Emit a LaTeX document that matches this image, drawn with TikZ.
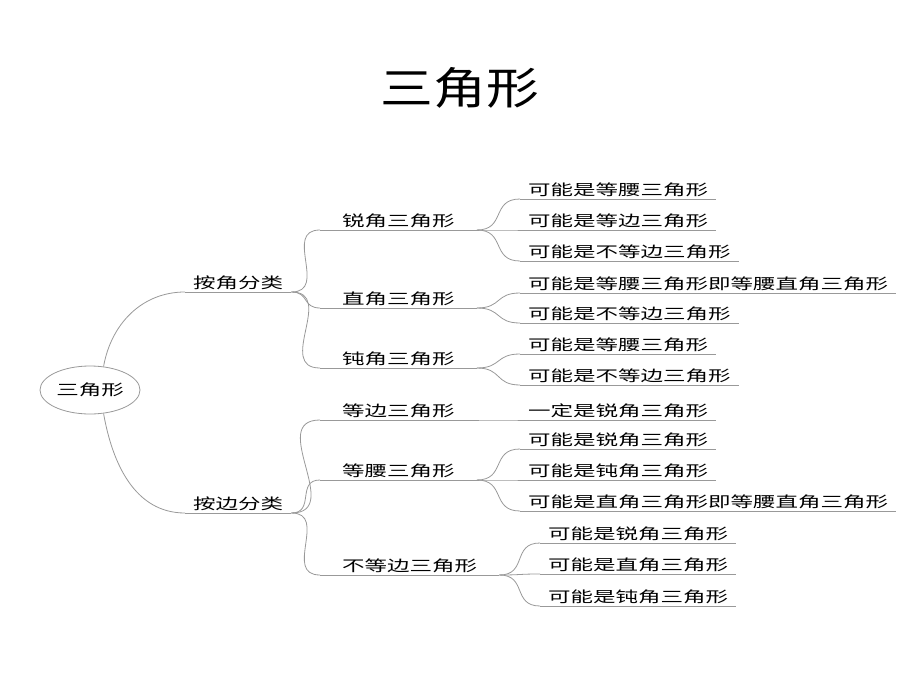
\documentclass[tikz,border=0pt]{standalone}
\usepackage{fontspec}
\newfontfamily\cjk{Noto Sans CJK SC}[FakeStretch=1.5]
\newfontfamily\cjktitle{Noto Sans CJK SC}[FakeStretch=1.2]
\usetikzlibrary{positioning,shapes.geometric}
\begin{document}
\begin{tikzpicture}[x=1pt,y=-1pt,
  branch/.style={draw=gray!80,line width=0.8pt},
  item/.style={anchor=south west,inner xsep=8pt,inner ysep=2pt,
    font=\cjk\fontsize{15}{17}\selectfont},
  group/.style={item,inner xsep=22pt}]
  \useasboundingbox (0,0) rectangle (920,690);
  % Title
  \node[font=\cjktitle\fontsize{44}{48}\selectfont] (title) at (460,88) {三角形};
  % Root
  \node[draw=gray!80,line width=0.8pt,ellipse,minimum width=100pt,minimum height=48pt,
    inner sep=0pt,font=\cjk\fontsize{15}{17}\selectfont] (root) at (90,390) {三角形};
  % First level
  \node[item] (angle) at (185,292) {按角分类};
  \node[item] (side) at (185,513) {按边分类};
  % Second level
  \node[group] (acute) at (320,230) {锐角三角形};
  \node[group] (right) at (320,308) {直角三角形};
  \node[group] (obtuse) at (320,368) {钝角三角形};
  \node[group] (equi) at (320,420) {等边三角形};
  \node[group] (iso) at (320,480) {等腰三角形};
  \node[group] (scal) at (320,575) {不等边三角形};
  % Leaves
  \node[item] (a1) at (520,199) {可能是等腰三角形};
  \node[item] (a2) at (520,230) {可能是等边三角形};
  \node[item] (a3) at (520,261) {可能是不等边三角形};
  \node[item] (r1) at (520,293) {可能是等腰三角形即等腰直角三角形};
  \node[item] (r2) at (520,323) {可能是不等边三角形};
  \node[item] (o1) at (520,354) {可能是等腰三角形};
  \node[item] (o2) at (520,385) {可能是不等边三角形};
  \node[item] (e1) at (520,420) {一定是锐角三角形};
  \node[item] (i1) at (520,449) {可能是锐角三角形};
  \node[item] (i2) at (520,480) {可能是钝角三角形};
  \node[item] (i3) at (520,511) {可能是直角三角形即等腰直角三角形};
  \node[item] (s1) at (540,543) {可能是锐角三角形};
  \node[item] (s2) at (540,574) {可能是直角三角形};
  \node[item] (s3) at (540,606) {可能是钝角三角形};
  % Underlines
  \foreach \n in {angle,side,acute,right,obtuse,equi,iso,scal,
    a1,a2,a3,r1,r2,o1,o2,e1,i1,i2,i3,s1,s2,s3}
    \draw[branch] (\n.south west) -- (\n.south east);
  % Connectors
  \draw[branch] (root.60) to[out=80,in=180] (angle.south west);
  \draw[branch] (root.-60) to[out=-80,in=180] (side.south west);
  \foreach \p/\c in {angle/acute,angle/right,angle/obtuse,side/equi,side/iso,side/scal,
    acute/a1,acute/a2,acute/a3,right/r1,right/r2,obtuse/o1,obtuse/o2,equi/e1,
    iso/i1,iso/i2,iso/i3,scal/s1,scal/s2,scal/s3}
    \draw[branch] (\p.south east) to[out=0,in=180,looseness=1.4] (\c.south west);
\end{tikzpicture}
\end{document}
